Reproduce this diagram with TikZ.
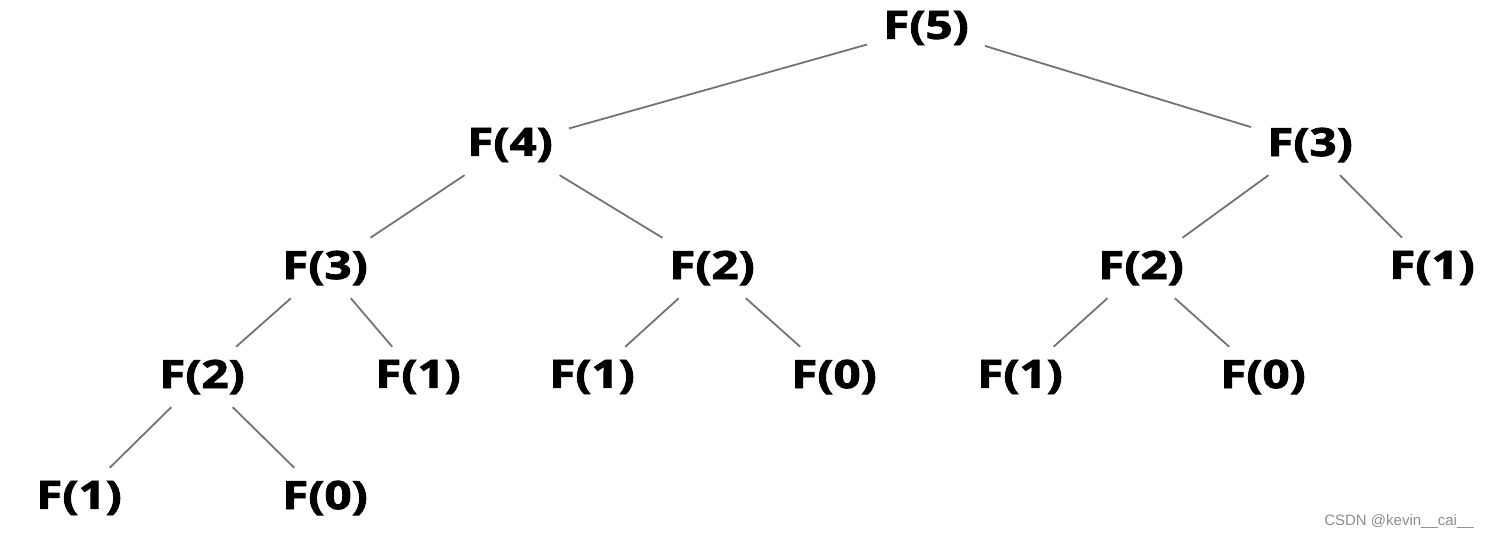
\documentclass[tikz,border=0pt]{standalone}
\usepackage{fontspec}
\setmainfont{Open Sans}[BoldFeatures={FakeBold=2}]
\newfontfamily\wmfont{Liberation Sans}
\begin{document}
\begin{tikzpicture}[x=1pt,y=-1pt,
  fn/.style={inner xsep=16pt,inner ysep=4pt,minimum height=60pt,
    font=\fontsize{39}{42}\selectfont\bfseries},
  edge/.style={draw=black!55,line width=1.8pt}]
\useasboundingbox (0,0) rectangle (1496,540);
\newcommand{\FF}[1]{\scalebox{1.22}[1]{F(#1)}}
\node[fn] (r)   at (926,28)  {\FF{5}};
\node[fn] (a)   at (510,145) {\FF{4}};
\node[fn] (b)   at (1310,145) {\FF{3}};
\node[fn] (aa)  at (325,268) {\FF{3}};
\node[fn] (ab)  at (712,268) {\FF{2}};
\node[fn] (ba)  at (1141,268) {\FF{2}};
\node[fn] (bb)  at (1432,268) {\FF{1}};
\node[fn] (aaa) at (202,377) {\FF{2}};
\node[fn] (aab) at (418,377) {\FF{1}};
\node[fn] (aba) at (592,377) {\FF{1}};
\node[fn] (abb) at (834,377) {\FF{0}};
\node[fn] (baa) at (1020,377) {\FF{1}};
\node[fn] (bab) at (1263,377) {\FF{0}};
\node[fn] (x1)  at (79,498)  {\FF{1}};
\node[fn] (x0)  at (325,498) {\FF{0}};
\draw[edge] (r) -- (a);
\draw[edge] (r) -- (b);
\draw[edge] (a) -- (aa);
\draw[edge] (a) -- (ab);
\draw[edge] (b) -- (ba);
\draw[edge] (b) -- (bb);
\draw[edge] (aa) -- (aaa);
\draw[edge] (aa) -- (aab);
\draw[edge] (ab) -- (aba);
\draw[edge] (ab) -- (abb);
\draw[edge] (ba) -- (baa);
\draw[edge] (ba) -- (bab);
\draw[edge] (aaa) -- (x1);
\draw[edge] (aaa) -- (x0);
\node[font=\wmfont\fontsize{15}{18}\selectfont,text=black!45] (wm) at (1399,522) {CSDN @kevin\_\_cai\_\_};
\end{tikzpicture}
\end{document}
